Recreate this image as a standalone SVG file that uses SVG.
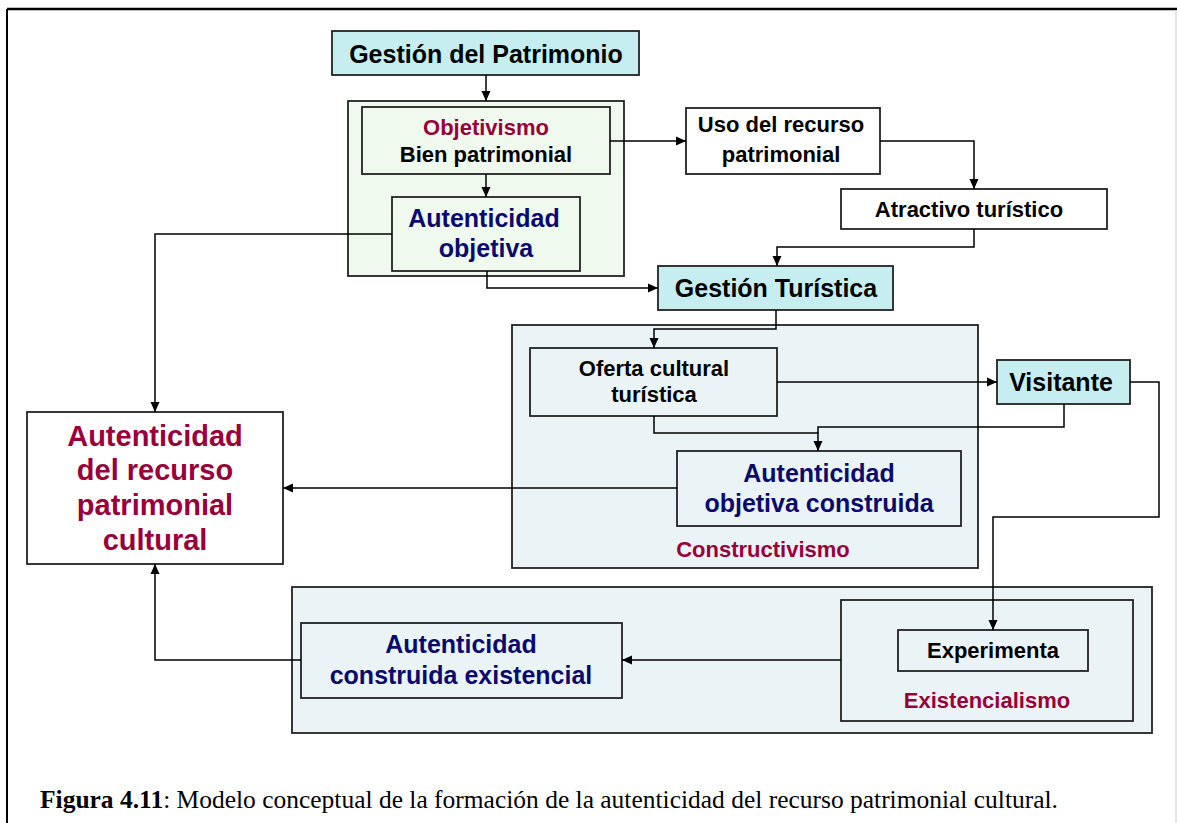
<svg xmlns="http://www.w3.org/2000/svg" width="1177" height="823" viewBox="0 0 1177 823">
<defs>
<marker id="ah" markerUnits="userSpaceOnUse" markerWidth="10" markerHeight="10" viewBox="0 0 10 10" refX="10" refY="5" orient="auto">
<path d="M0,0.5 L10,5 L0,9.5 z" fill="#000"/>
</marker>
<style>
.box{stroke:#222;stroke-width:1.8}
.cyan{fill:#C6EEF0}
.green{fill:#F0F9EE}
.blue{fill:#EAF4F6}
.white{fill:#fff}
.t{font-family:"Liberation Sans",Arial,sans-serif;font-weight:bold;text-anchor:middle}
.big{font-size:25px}
.med{font-size:22px}
.blk{fill:#000}
.navy{fill:#0A0A6E}
.red{fill:#99003A}
.conn{fill:none;stroke:#000;stroke-width:1.5}
</style>
</defs>
<rect x="0" y="0" width="1177" height="823" fill="#fff"/>
<g id="frame">
<line x1="7" y1="9" x2="1177" y2="9" stroke="#000" stroke-width="2.6"/>
<line x1="7" y1="9" x2="7" y2="823" stroke="#000" stroke-width="2"/>
<line x1="1176" y1="10" x2="1176" y2="823" stroke="#ddd" stroke-width="1.5"/>
</g>
<g id="objetivismo-container"><rect class="box green" x="348" y="101" width="276" height="175"/></g>
<g id="constructivismo-container"><rect class="box blue" x="512" y="325" width="466" height="243"/>
<text class="t med red" x="763" y="557">Constructivismo</text></g>
<g id="existencial-container"><rect class="box blue" x="292" y="587" width="860" height="146"/></g>
<g id="existencialismo-container"><rect class="box blue" x="841" y="600" width="292" height="121"/>
<text class="t med red" x="987" y="708">Existencialismo</text></g>
<g id="gestion-patrimonio"><rect class="box cyan" x="332" y="31" width="307" height="44"/>
<text class="t big blk" x="486" y="63">Gestión del Patrimonio</text></g>
<g id="objetivismo"><rect class="box green" x="362" y="107" width="248" height="67"/>
<text class="t med red" x="486" y="135">Objetivismo</text>
<text class="t med blk" x="486" y="162">Bien patrimonial</text></g>
<g id="autenticidad-objetiva"><rect class="box green" x="392" y="197" width="188" height="74"/>
<text class="t big navy" x="484" y="227">Autenticidad</text>
<text class="t big navy" x="486" y="257">objetiva</text></g>
<g id="uso-recurso"><rect class="box white" x="686" y="108" width="194" height="66"/>
<text class="t med blk" x="781" y="132">Uso del recurso</text>
<text class="t med blk" x="781" y="162">patrimonial</text></g>
<g id="atractivo"><rect class="box white" x="841" y="189" width="266" height="40"/>
<text class="t med blk" x="969" y="217">Atractivo turístico</text></g>
<g id="gestion-turistica"><rect class="box cyan" x="658" y="266" width="235" height="44"/>
<text class="t big blk" x="776" y="297">Gestión Turística</text></g>
<g id="oferta"><rect class="box blue" x="530" y="348" width="247" height="68"/>
<text class="t med blk" x="654" y="376">Oferta cultural</text>
<text class="t med blk" x="654" y="402">turística</text></g>
<g id="visitante"><rect class="box cyan" x="997" y="360" width="133" height="44"/>
<text class="t big blk" x="1061" y="391">Visitante</text></g>
<g id="autenticidad-objetiva-construida"><rect class="box blue" x="677" y="451" width="284" height="75"/>
<text class="t big navy" x="819" y="482">Autenticidad</text>
<text class="t big navy" x="819" y="512">objetiva construida</text></g>
<g id="autenticidad-recurso"><rect class="box white" x="27" y="412" width="256" height="152"/>
<text class="t red" style="font-size:29px" x="155" y="446">Autenticidad</text>
<text class="t red" style="font-size:29px" x="155" y="480">del recurso</text>
<text class="t red" style="font-size:29px" x="155" y="515">patrimonial</text>
<text class="t red" style="font-size:29px" x="155" y="550">cultural</text></g>
<g id="autenticidad-construida-existencial"><rect class="box blue" x="301" y="623" width="321" height="75"/>
<text class="t big navy" x="461" y="653">Autenticidad</text>
<text class="t big navy" x="461" y="684">construida existencial</text></g>
<g id="experimenta"><rect class="box blue" x="898" y="630" width="190" height="41"/>
<text class="t med blk" x="993" y="658">Experimenta</text></g>
<g id="connectors">
<path class="conn" d="M486,75 V101" marker-end="url(#ah)"/>
<path class="conn" d="M486,174 V197" marker-end="url(#ah)"/>
<path class="conn" d="M392,234 H155 V412" marker-end="url(#ah)"/>
<path class="conn" d="M487,271 V288 H658" marker-end="url(#ah)"/>
<path class="conn" d="M610,141 H686" marker-end="url(#ah)"/>
<path class="conn" d="M880,141 H974 V189" marker-end="url(#ah)"/>
<path class="conn" d="M974,229 V247 H777 V266" marker-end="url(#ah)"/>
<path class="conn" d="M776,310 V329 H654 V348" marker-end="url(#ah)"/>
<path class="conn" d="M777,382 H997" marker-end="url(#ah)"/>
<path class="conn" d="M654,416 V433 H818 V451" marker-end="url(#ah)"/>
<path class="conn" d="M1064,404 V427 H818 V433"/>
<path class="conn" d="M677,488 H283" marker-end="url(#ah)"/>
<path class="conn" d="M1130,382 H1159 V517 H993 V630" marker-end="url(#ah)"/>
<path class="conn" d="M841,660 H622" marker-end="url(#ah)"/>
<path class="conn" d="M301,660 H155 V564" marker-end="url(#ah)"/>
</g>
<g id="caption">
<text x="40" y="808" textLength="1018" lengthAdjust="spacingAndGlyphs" style="font-family:'Liberation Serif','Times New Roman',serif;font-size:25px;fill:#000"><tspan font-weight="bold">Figura 4.11</tspan>: Modelo conceptual de la formación de la autenticidad del recurso patrimonial cultural.</text>
</g>
</svg>
